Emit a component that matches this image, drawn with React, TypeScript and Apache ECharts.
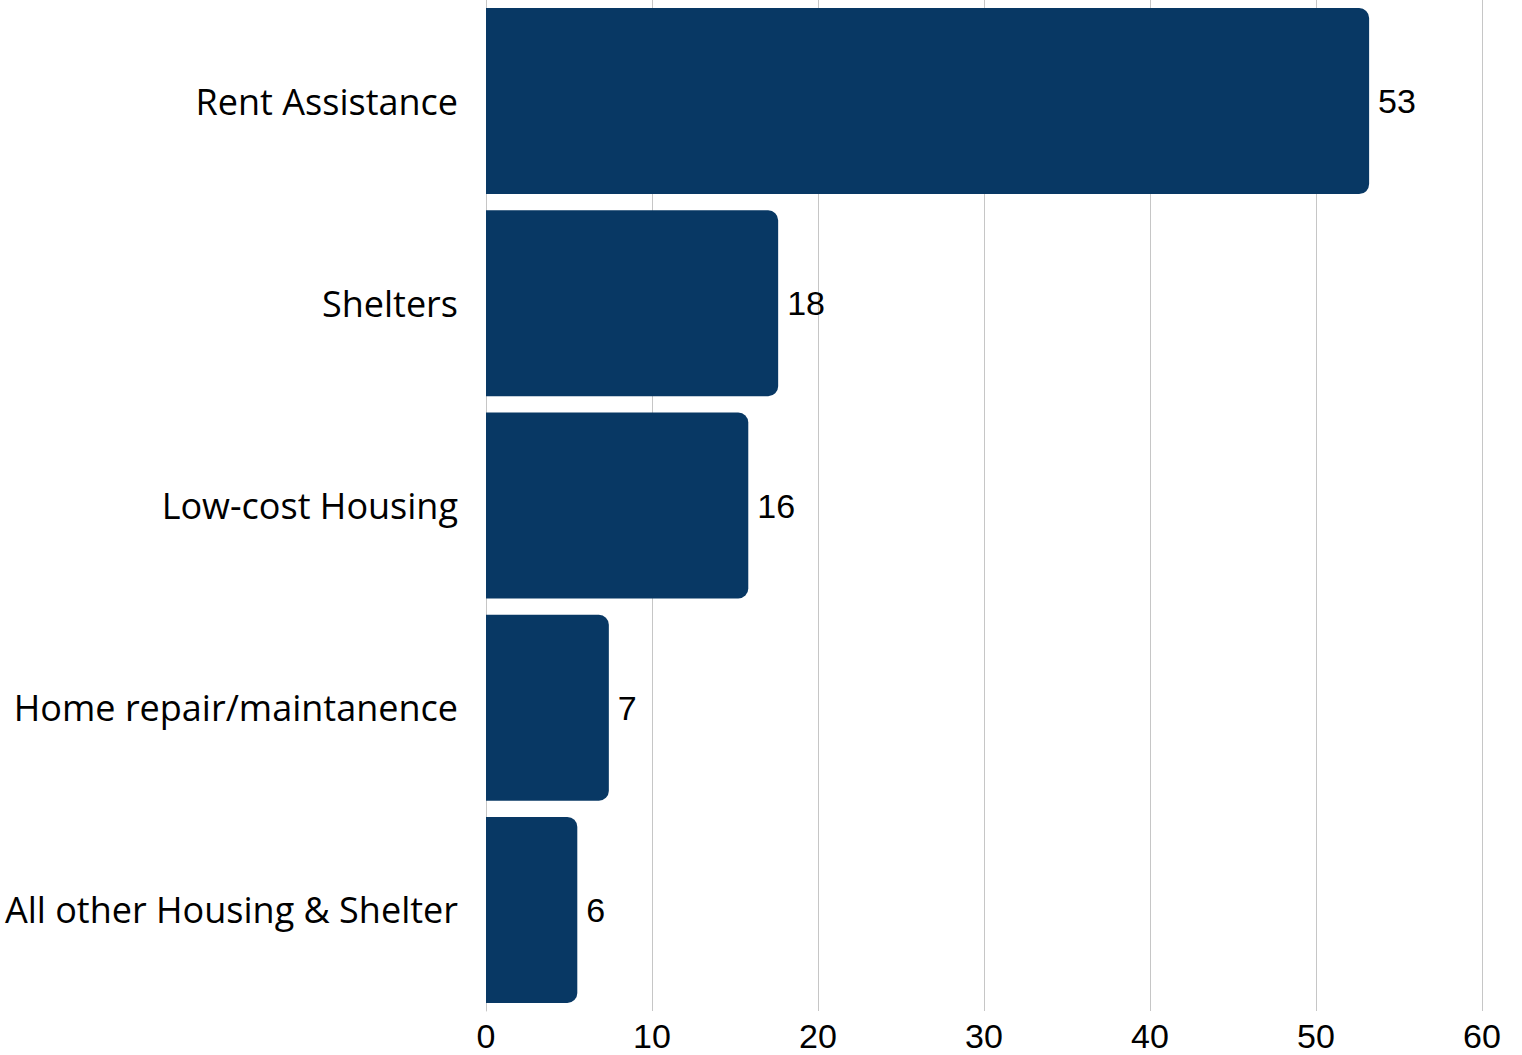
import React, { useEffect, useRef } from "react";
import * as echarts from "echarts";

const categories = [
  "Rent Assistance",
  "Shelters",
  "Low-cost Housing",
  "Home repair/maintanence",
  "All other Housing & Shelter",
];
const values = [53.2, 17.6, 15.8, 7.4, 5.5];
const xTicks = [0, 10, 20, 30, 40, 50, 60];

export default function App() {
  const ref = useRef<HTMLDivElement>(null);
  useEffect(() => {
    if (!ref.current) return;
    const chart = echarts.init(ref.current, null, { renderer: "svg" });
    const font = "'Liberation Sans', Arial, sans-serif";
    const catFont = "'Open Sans', 'Noto Sans', sans-serif";
    chart.setOption({
      animation: false,
      backgroundColor: "#ffffff",
      grid: { left: 486, top: -1, width: 996, height: 1012, containLabel: false },
      xAxis: {
        type: "value",
        min: xTicks[0],
        max: xTicks[xTicks.length - 1],
        interval: 10,
        axisLine: { show: false },
        axisTick: { show: false },
        splitLine: { show: true, lineStyle: { color: "#c6c6c6", width: 1 } },
        axisLabel: { fontFamily: font, fontSize: 34, lineHeight: 30, color: "#000", margin: 10 },
      },
      yAxis: {
        type: "category",
        inverse: true,
        data: categories,
        axisLine: { show: true, lineStyle: { color: "#c6c6c6", width: 1 } },
        axisTick: { show: false },
        axisLabel: { fontFamily: catFont, fontSize: 36, color: "#000", margin: 28 },
      },
      series: [
        {
          type: "bar",
          data: values,
          barWidth: 186,
          itemStyle: { color: "#083864", borderRadius: [0, 10, 10, 0] },
          label: {
            show: true,
            position: "right",
            distance: 9,
            fontFamily: font,
            fontSize: 34,
            color: "#000",
            formatter: (p: any) => String(Math.round(p.value)),
          },
        },
      ],
    });
    return () => chart.dispose();
  }, []);
  return (
    <div
      ref={ref}
      style={{ position: "fixed", left: 0, top: 0, width: 1522, height: 1055 }}
    />
  );
}
